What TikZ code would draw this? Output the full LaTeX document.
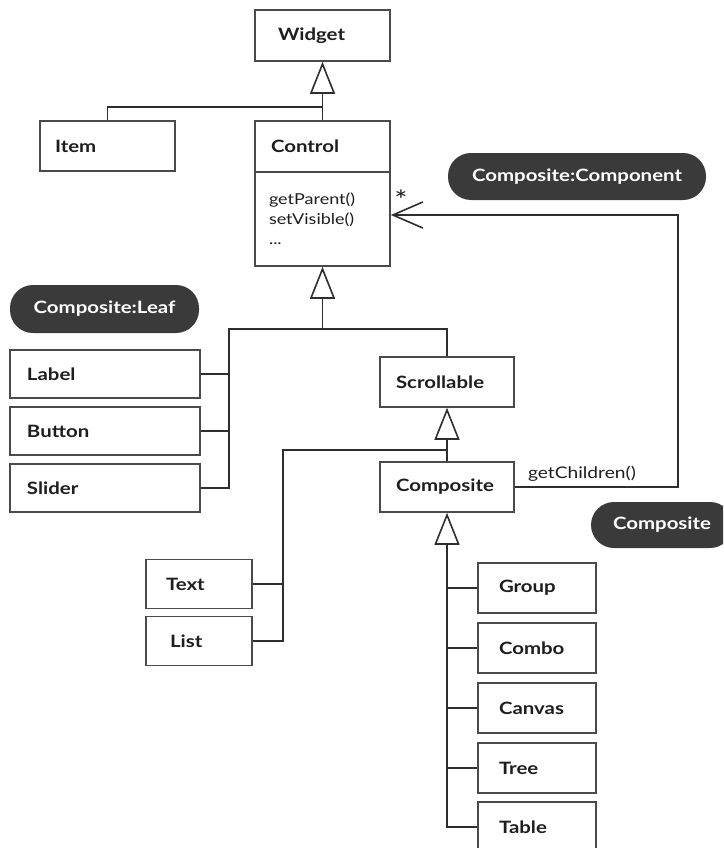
\documentclass[tikz,border=0pt]{standalone}
\usepackage{fontspec}
\setmainfont[FakeStretch=1.2]{Lato}
\usetikzlibrary{arrows.meta}
\definecolor{ink}{HTML}{1E1E1E}
\definecolor{boxline}{HTML}{4A4A4A}
\definecolor{wire}{HTML}{2E2E2E}
\definecolor{pillfill}{HTML}{3A3A3A}
\tikzset{
  box/.style={draw=boxline, line width=1.6pt, fill=white, inner ysep=0pt,
    align=left, text=ink, font=\bfseries\fontsize{17}{20}\selectfont},
  opsbox/.style={box, font=\fontsize{15}{20}\selectfont},
  pill/.style={fill=pillfill, rounded corners=23pt, text=white, inner sep=0pt,
    font=\bfseries\fontsize{17}{20}\selectfont},
  conn/.style={draw=wire, line width=1.6pt},
  gen/.style={conn, -{Triangle[open, length=32pt, width=25pt, line width=1.6pt]}},
  assoc/.style={conn, -{Straight Barb[length=30pt, width=26pt, line width=1.6pt]}},
  lbl/.style={text=ink, font=\fontsize{16}{18}\selectfont, inner sep=0pt},
}
\begin{document}
\begin{tikzpicture}[x=1pt, y=-1pt]
\clip (0,0) rectangle (723,848);
\fill[white] (0,0) rectangle (723,848);

% class boxes
\node[box, text width=89pt, inner xsep=23pt, minimum height=51pt] (widget) at (322.5,35.5) {Widget};
\node[box, text width=105pt, inner xsep=15pt, minimum height=50pt] (item) at (107.5,146) {Item};
\node[box, text width=103pt, inner xsep=16pt, minimum height=51pt] (ctrl) at (322.5,146.5) {Control};
\node[opsbox, text width=107pt, inner xsep=14pt, minimum height=94pt] (ops) at (322.5,219) {getParent()\\setVisible()\\...};

\node[box, text width=156pt, inner xsep=17pt, minimum height=48pt] (label) at (105,374) {Label};
\node[box, text width=156pt, inner xsep=17pt, minimum height=48pt] (button) at (105,431) {Button};
\node[box, text width=156pt, inner xsep=17pt, minimum height=48pt] (slider) at (105,488) {Slider};

\node[box, text width=102pt, inner xsep=16pt, minimum height=50pt] (scroll) at (447,382) {Scrollable};
\node[box, text width=102pt, inner xsep=16pt, minimum height=50pt] (comp) at (447,487) {Composite};

\node[box, text width=66pt, inner xsep=20pt, minimum height=49pt] (text) at (199,584) {Text};
\node[box, text width=58pt, inner xsep=24pt, minimum height=49pt] (list) at (199,641) {List};

\node[box, text width=76pt, inner xsep=21pt, minimum height=50pt] (group) at (537,588) {Group};
\node[box, text width=76pt, inner xsep=21pt, minimum height=50pt] (combo) at (537,648) {Combo};
\node[box, text width=76pt, inner xsep=21pt, minimum height=50pt] (canvas) at (537,708) {Canvas};
\node[box, text width=76pt, inner xsep=21pt, minimum height=50pt] (tree) at (537,768) {Tree};
\node[box, text width=76pt, inner xsep=21pt, minimum height=50pt] (table) at (537,827) {Table};

% role tags
\node[pill, minimum width=258pt, minimum height=47pt] (tagcomponent) at (577,176.5) {Composite:Component};
\node[pill, minimum width=189pt, minimum height=48pt] (tagleaf) at (104.5,309) {Composite:Leaf};
\node[pill, minimum width=142pt, minimum height=46pt] (tagcomposite) at (662,525) {Composite};

% Widget hierarchy
\coordinate (wj) at (322.5,107);
\draw[gen] (ctrl.north) -- (widget.south);
\draw[conn] (item.north) |- (wj);

% Control hierarchy
\coordinate (cj) at (322.5,329);
\coordinate (lb) at (229,329);
\draw[gen] (cj) -- (ops.south);
\draw[conn] (scroll.north) |- (lb) -- (lb |- slider.east) -- (slider.east);
\draw[conn] (label.east) -- (lb |- label.east);
\draw[conn] (button.east) -- (lb |- button.east);

% Scrollable hierarchy
\coordinate (sj) at (447,450);
\coordinate (tb) at (283,450);
\draw[gen] (comp.north) -- (scroll.south);
\draw[conn] (sj) -- (tb) -- (tb |- list.east) -- (list.east);
\draw[conn] (text.east) -- (tb |- text.east);

% Composite hierarchy
\draw[gen] (table.west) -| (comp.south);
\draw[conn] (group.west) -- (comp.south |- group.west);
\draw[conn] (combo.west) -- (comp.south |- combo.west);
\draw[conn] (canvas.west) -- (comp.south |- canvas.west);
\draw[conn] (tree.west) -- (comp.south |- tree.west);

% children association
\coordinate (ar) at (678,215);
\draw[assoc] (comp.east) -| (ar) -- (ops.east |- ar);
\node[lbl, anchor=base west] (gch) at ([shift={(13pt,9pt)}]comp.east) {getChildren()};
\node[lbl, font=\fontsize{26}{26}\selectfont] (mult) at (401,200) {*};
\end{tikzpicture}
\end{document}
